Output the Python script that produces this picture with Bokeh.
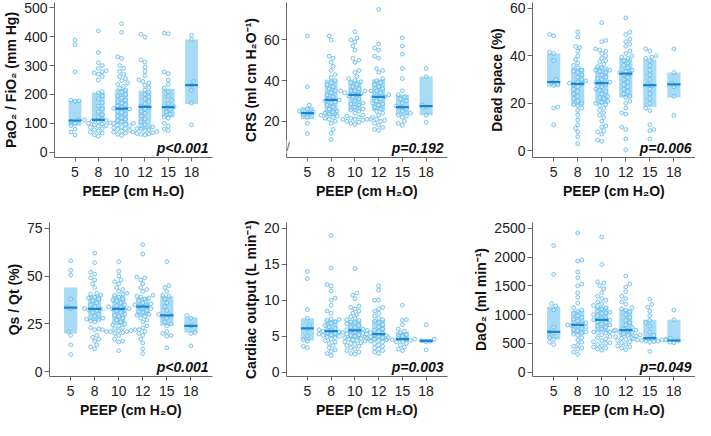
from bokeh.plotting import figure
from bokeh.layouts import column, row
from bokeh.models import FixedTicker, Label, ColumnDataSource
from bokeh.embed import file_html
from bokeh.resources import INLINE

peep = ["5", "8", "10", "12", "15", "18"]

# ---------------- PaO2 / FiO2 ----------------
pao2 = [
    [388, 372, 278, 180, 178, 176, 112, 108, 100, 92, 80, 70, 60],
    [420, 345, 310, 300, 290, 282, 278, 275, 270, 262, 250, 210, 205, 195, 185, 172, 160, 150, 140, 130,
     122, 115, 112, 110, 108, 105, 102, 100, 98, 95, 92, 90, 86, 82, 78, 74, 70, 66, 60, 56],
    [445, 415, 330, 325, 300, 290, 280, 270, 262, 255, 248, 240, 235, 228, 222, 215, 208, 200, 195, 188,
     180, 175, 170, 165, 160, 155, 152, 150, 148, 142, 138, 132, 125, 120, 115, 110, 105, 100, 97, 95,
     92, 88, 85, 82, 80, 76, 73, 70, 66, 62, 58, 100],
    [408, 398, 320, 312, 295, 280, 265, 250, 245, 240, 232, 225, 215, 208, 200, 192, 185, 176, 168, 160,
     155, 150, 142, 135, 125, 115, 105, 95, 88, 82, 78, 75, 72, 70, 68, 65, 63, 62, 60, 80],
    [412, 410, 278, 272, 250, 235, 222, 210, 195, 180, 168, 158, 155, 148, 140, 132, 122, 118, 100, 90, 80, 75],
    [405, 390, 245, 232, 215, 170, 95],
]
pao2_q1 = [92, 106, 97, 78, 120, 167]
pao2_med = [110, 112, 151, 157, 156, 232]
pao2_q3 = [180, 207, 220, 213, 220, 390]

# ---------------- CRS ----------------
crs = [
    [62, 37, 28, 26, 25, 24.5, 24, 23.5, 22, 19, 14],
    [62, 60, 52, 51, 49, 47, 45, 43, 41.5, 40, 39, 38, 37, 36, 35, 34, 33, 32, 31, 30.5,
     30, 29.5, 29, 28, 27, 26, 25, 24.5, 24, 23.5, 23, 22.5, 22, 21.5, 21, 20, 19, 16, 14, 11],
    [64, 61, 60, 59, 57, 55, 51, 50, 49, 45, 44, 42, 41, 40, 39.5, 39, 38, 37, 36, 35,
     35, 35, 35, 35, 34, 33.5, 33, 32.5, 32, 31, 30, 29, 28.5, 28, 27, 26, 25.5, 25, 24, 23,
     22.5, 22, 21.5, 21, 21, 21, 21, 20.5, 20, 19.5, 19, 18.5],
    [75, 58, 56, 55, 52, 51, 46, 45, 44, 41, 40, 39, 38, 37, 36, 35, 34, 33, 32.5, 32,
     31.5, 31, 30, 29, 28.5, 28, 27, 26, 25, 24, 23, 22, 21, 20.5, 20, 19, 18, 17, 16, 15.5],
    [61, 57, 53, 46, 41, 35, 33, 32, 31, 30, 29, 27.5, 27, 26, 25, 24, 23, 22.5, 22, 20, 19, 18],
    [46, 42, 28, 27, 23, 19.5],
]
crs_q1 = [21, 22.5, 25, 25, 23, 23]
crs_med = [24, 30.5, 33, 32, 27, 27.5]
crs_q3 = [27, 40.5, 40, 40.5, 33, 42]

# ---------------- Dead space ----------------
dead = [
    [49, 48.5, 41.5, 41, 38, 30, 29, 28, 27.5, 18.5, 18, 11],
    [50, 48, 44, 43.5, 42, 40, 38.5, 37, 36, 35, 34, 33.5, 33, 32, 31, 30, 29.5, 29, 28.5, 28.2,
     28, 27, 26, 25, 24, 23, 22, 21, 20, 19.5, 19, 18, 17, 15, 13, 11, 9.5, 8, 6, 3],
    [54, 46.5, 46, 43, 42.5, 42, 41, 40, 39, 38, 37.5, 36.5, 35.5, 35, 34, 34, 33.5, 33, 32, 31,
     30.5, 30, 29, 28.8, 28.5, 28, 27, 26, 25.5, 25, 24, 23, 22.5, 22, 21, 20.5, 20, 19.5, 19, 18,
     17, 16, 15, 14, 12.5, 10.5, 10, 8.5, 8, 7, 4.5, 4],
    [56, 50, 49, 47, 46, 45, 44, 42, 41, 40, 39.5, 39, 38, 37, 36, 35, 34, 33.5, 33, 32.5,
     32, 31, 30, 29, 28, 27, 26, 25, 24, 23, 22.5, 21, 20, 18, 16, 15.5, 10, 9, 5, 0.5],
    [43, 42, 40, 39.5, 39, 38, 36, 34, 32, 30, 28, 27.5, 26, 24, 22, 20, 18, 17, 11, 9, 8.5, 5],
    [43, 33, 28.5, 27, 23, 15],
]
dead_q1 = [27, 19, 19.5, 22.5, 18.5, 22.5]
dead_med = [29, 28.2, 28.5, 32.5, 27.7, 28]
dead_q3 = [41, 35, 35.5, 39, 38.5, 33]

# ---------------- Qs / Qt ----------------
qsqt = [
    [58, 53, 50.5, 38, 34, 33, 21, 19, 14, 9],
    [62, 57, 52, 51, 49, 48, 46, 44, 41, 40.5, 40, 39, 38.5, 38, 37, 36, 35, 34, 33, 32.8,
     32.5, 32, 31, 30, 29, 28, 27.5, 27, 26.5, 26, 23, 22.5, 22, 19, 18, 17, 16, 14, 13, 12],
    [57.5, 52.5, 50, 48, 47, 46, 44, 43, 42, 41, 40.5, 40, 39, 38, 37.5, 37, 36, 35, 34.5, 34,
     33.5, 33, 32.8, 32.5, 32, 31, 30, 29.5, 29, 28, 27, 26, 25, 24.5, 24, 23, 22.5, 22, 22, 21.5,
     21.5, 21, 21, 21, 20.5, 20, 19, 17, 16, 15.5, 11, 22],
    [66.5, 61.5, 49.5, 49, 48, 46, 44, 43, 42, 40, 39.5, 39, 38.5, 38, 37, 36, 35.5, 35, 34.5, 34,
     33.5, 33, 32, 31.5, 31, 30, 29.5, 29, 28, 27, 26, 24, 23, 21, 20, 19, 17, 15, 12, 9.5],
    [57.5, 45, 44, 42, 40, 39.5, 38, 36, 34, 32, 30, 29.5, 29, 28, 26, 25, 24, 21, 20, 19, 18.5, 12.5],
    [29.5, 28, 24, 20.5, 20, 13.5],
]
qsqt_q1 = [20, 26.5, 24.5, 29, 24, 20.5]
qsqt_med = [33.5, 32.8, 32.8, 34, 29.5, 24]
qsqt_q3 = [44, 40, 40, 39, 39.5, 28.5]

# ---------------- Cardiac output ----------------
co = [
    [14, 13, 8.7, 7.5, 6.5, 6, 5, 4.5, 4.3, 3.6, 3.4],
    [19, 14.5, 12.2, 12, 11.3, 10.3, 10, 9.3, 8.5, 8.2, 7.4, 7.3, 7.2, 7, 6.8, 6.5, 6.3, 6.1, 5.9, 5.8,
     5.7, 5.6, 5.5, 5.4, 5.3, 5.2, 5.1, 5, 4.9, 4.8, 4.6, 4.4, 4.2, 4, 3.7, 3.4, 3.1, 2.9, 2.6, 2.3],
    [14.4, 11, 10.7, 10.2, 9.2, 9, 8.8, 8.5, 8.2, 8, 7.7, 7.5, 7.3, 7.2, 7, 6.9, 6.7, 6.5, 6.3, 6.2,
     6, 5.9, 5.8, 5.8, 5.7, 5.6, 5.5, 5.4, 5.3, 5.2, 5.1, 5, 4.9, 4.8, 4.7, 4.6, 4.6, 4.5, 4.4, 4.3,
     4.2, 4.1, 4, 3.9, 3.7, 3.6, 3.4, 3.2, 3, 2.8, 2.6, 2.5],
    [12, 11.4, 10, 10, 9, 8.8, 8.5, 8.2, 7.8, 7.5, 7.3, 7.1, 6.9, 6.6, 6.3, 6, 5.8, 5.6, 5.5, 5.4,
     5.3, 5.2, 5.1, 5, 4.9, 4.8, 4.7, 4.6, 4.5, 4.4, 4.3, 4.2, 4, 3.8, 3.6, 3.4, 3.2, 3, 2.8, 2.6],
    [9.3, 7.3, 7.2, 6.6, 6, 5.7, 5.5, 5.2, 5, 4.8, 4.7, 4.6, 4.6, 4.5, 4.4, 4.3, 4.2, 4, 3.8, 3.5, 3.2, 3],
    [6.6, 4.6, 4.4, 4.3, 4.2, 3.1],
]
co_q1 = [4.4, 4.9, 4.6, 4.4, 4.3, 4.1]
co_med = [6.1, 5.7, 5.8, 5.3, 4.6, 4.35]
co_q3 = [7.5, 7.3, 7.2, 7.3, 5.6, 4.6]

# ---------------- DaO2 ----------------
dao2 = [
    [2200, 1700, 1190, 1150, 1080, 780, 700, 680, 600, 570, 520, 480],
    [2420, 1950, 1930, 1740, 1640, 1530, 1500, 1380, 1300, 1200, 1120, 1080, 1060, 1020, 980, 950, 920, 890, 860, 840,
     820, 810, 800, 780, 760, 740, 720, 700, 680, 660, 640, 600, 560, 520, 480, 450, 420, 400, 350, 310],
    [2350, 1870, 1570, 1550, 1500, 1450, 1380, 1320, 1280, 1250, 1220, 1190, 1160, 1140, 1120, 1100, 1060, 1040, 1030, 1020,
     1000, 980, 950, 930, 910, 900, 880, 860, 840, 820, 800, 780, 750, 720, 700, 700, 690, 680, 650, 620,
     600, 580, 550, 530, 510, 500, 480, 460, 440, 420, 400, 380],
    [1670, 1530, 1480, 1400, 1320, 1280, 1220, 1180, 1120, 1100, 1080, 1050, 1000, 950, 900, 860, 820, 780, 750, 730,
     730, 720, 700, 690, 670, 650, 640, 630, 620, 600, 590, 570, 550, 530, 510, 480, 460, 440, 420, 390],
    [1270, 1180, 1130, 1060, 980, 900, 860, 800, 700, 640, 600, 590, 580, 570, 560, 560, 550, 540, 540, 530, 520, 360],
    [1080, 910, 560, 550, 520, 510],
]
dao2_q1 = [570, 660, 700, 620, 540, 530]
dao2_med = [700, 820, 910, 730, 590, 550]
dao2_q3 = [1140, 1070, 1140, 1090, 910, 910]

p_values = ["p<0.001", "p=0.192", "p=0.006", "p<0.001", "p=0.003", "p=0.049"]

BOX_FILL = "#a6daf5"
PT_LINE = "#5ab6ea"
PT_FILL = "#e3f3fc"
MED = "#1b86cf"
AX = "#666666"
FONT = "Liberation Sans"
XR = (-0.88, 5.9)
HALF = 0.275
PT = 3.8


def swarm(vals, ppy, ppx, d=PT + 0.3):
    placed = []
    xs = [0.0] * len(vals)
    order = sorted(range(len(vals)), key=lambda i: vals[i])
    step = d * 0.5
    for n, i in enumerate(order):
        y = vals[i] * ppy
        cands = [0.0]
        sgn = 1 if n % 2 == 0 else -1
        for j in range(1, 60):
            cands += [sgn * j * step, -sgn * j * step]
        chosen = 0.0
        for c in cands:
            if all((c - px) ** 2 + (y - py) ** 2 >= d * d for px, py in placed):
                chosen = c
                break
        placed.append((chosen, y))
        xs[i] = chosen / ppx
    return xs


def panel(groups, q1, med, q3, ylabel, yr, yticks, ptext, w, h, lb, rb, tb, bb, brk=None):
    p = figure(width=w, height=h, x_range=XR, y_range=yr, output_backend="svg",
               toolbar_location=None, min_border_left=lb, min_border_right=rb,
               min_border_top=tb, min_border_bottom=bb)
    p.xgrid.visible = False
    p.ygrid.visible = False
    p.outline_line_color = None
    p.background_fill_color = "white"
    p.border_fill_color = "white"

    fw = w - lb - rb
    fh = h - tb - bb
    ppx = fw / (XR[1] - XR[0])
    ppy = fh / (yr[1] - yr[0])

    xs = list(range(len(peep)))
    box_src = ColumnDataSource(dict(
        left=[x - HALF for x in xs], right=[x + HALF for x in xs],
        bottom=q1, top=q3, med=med))
    p.quad(left="left", right="right", bottom="bottom", top="top", source=box_src,
           fill_color=BOX_FILL, line_color=None)

    px_all, py_all = [], []
    for gi, vals in enumerate(groups):
        offs = swarm(vals, ppy, ppx)
        px_all += [gi + o for o in offs]
        py_all += vals
    p.scatter(px_all, py_all, size=PT, marker="circle", line_color=PT_LINE,
              line_width=0.8, fill_color=PT_FILL, fill_alpha=0.5)

    p.segment(x0="left", x1="right", y0="med", y1="med", source=box_src,
              line_color=MED, line_width=2.2)

    for ax in (p.xaxis, p.yaxis):
        ax.axis_line_color = AX
        ax.major_tick_line_color = AX
        ax.minor_tick_line_color = None
        ax.major_tick_in = 0
        ax.major_label_text_font = FONT
        ax.major_label_text_font_size = "14px"
        ax.major_label_text_color = "#222222"
        ax.axis_label_text_font = FONT
        ax.axis_label_text_font_size = "14px"
        ax.axis_label_text_font_style = "bold"
        ax.axis_label_text_color = "#111111"

    p.xaxis.ticker = FixedTicker(ticks=xs)
    p.xaxis.major_label_overrides = {i: lab for i, lab in enumerate(peep)}
    p.xaxis.major_tick_out = 4
    p.xaxis.major_label_standoff = 5
    p.xaxis.axis_label = "PEEP (cm H\u2082O)"
    p.xaxis.axis_label_standoff = 3

    p.yaxis.ticker = FixedTicker(ticks=yticks)
    p.yaxis.major_tick_out = 5
    p.yaxis.major_label_standoff = 2
    p.yaxis.axis_label = ylabel
    p.yaxis.axis_label_standoff = 2

    p.add_layout(Label(x=XR[1], y=yr[0], x_offset=-4, y_offset=2, text=ptext,
                       text_align="right", text_baseline="bottom", text_font=FONT,
                       text_font_style="bold italic", text_font_size="14px",
                       text_color="#111111"))
    if brk is not None:
        p.add_layout(Label(x=XR[0], y=brk, text="//", text_align="center",
                           text_baseline="middle", text_font=FONT, text_font_size="12px",
                           text_color="#555555", background_fill_color="white"))
    return p


TOP = dict(h=202, tb=2, bb=45)
BOT = dict(h=218, tb=20, bb=44)
W1 = dict(w=239, lb=49, rb=27)
W2 = dict(w=228, lb=45, rb=20)
W3 = dict(w=228, lb=65, rb=0)

f1 = panel(pao2, pao2_q1, pao2_med, pao2_q3, "PaO\u2082 / FiO\u2082 (mm Hg)", (-18, 518),
           [0, 100, 200, 300, 400, 500], p_values[0], **W1, **TOP)
f2 = panel(crs, crs_q1, crs_med, crs_q3, "CRS (ml cm H\u2082O\u207b\u00b9)", (2.2, 78.4),
           [20, 40, 60], p_values[1], **W2, **TOP, brk=7.4)
f3 = panel(dead, dead_q1, dead_med, dead_q3, "Dead space (%)", (-2.8, 62.5),
           [0, 20, 40, 60], p_values[2], **W3, **TOP)
f4 = panel(qsqt, qsqt_q1, qsqt_med, qsqt_q3, "Qs / Qt (%)", (-2.5, 78),
           [0, 25, 50, 75], p_values[3], **W1, **BOT)
f5 = panel(co, co_q1, co_med, co_q3, "Cardiac output (L min\u207b\u00b9)", (-0.6, 20.8),
           [0, 5, 10, 15, 20], p_values[4], **W2, **BOT)
f6 = panel(dao2, dao2_q1, dao2_med, dao2_q3, "DaO\u2082 (ml min\u207b\u00b9)", (-75, 2600),
           [0, 500, 1000, 1500, 2000, 2500], p_values[5], **W3, **BOT)

layout = column(row(f1, f2, f3), row(f4, f5, f6))
open("out.html", "w").write(file_html(layout, INLINE))
